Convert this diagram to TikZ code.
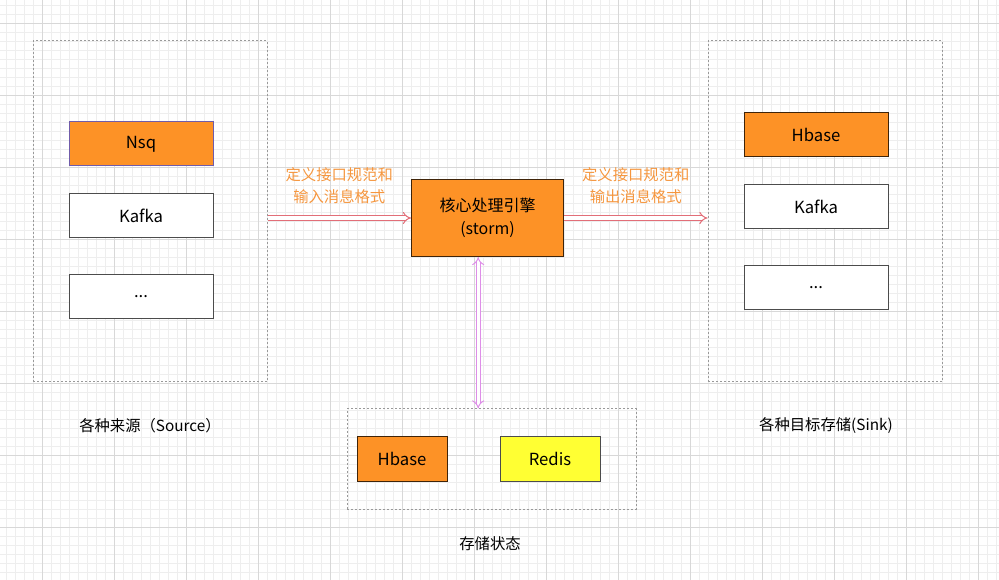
\documentclass[tikz,border=0pt]{standalone}
\usepackage{fontspec}
\setmainfont{Noto Sans CJK SC}
\usetikzlibrary{arrows.meta}
\definecolor{engine}{RGB}{253,146,38}
\definecolor{redisfill}{RGB}{255,255,51}
\definecolor{flowtext}{RGB}{245,150,62}
\definecolor{flowline}{RGB}{226,110,120}
\definecolor{stateline}{RGB}{222,142,232}
\definecolor{nsqedge}{RGB}{112,92,170}
\definecolor{gridminor}{RGB}{238,238,238}
\definecolor{gridmajor}{RGB}{216,216,216}
\tikzset{every node/.style={font=\fontsize{11.5}{16.5}\selectfont},
 item/.style={draw=black!70,line width=.75pt,fill=white,minimum width=108pt,minimum height=33pt,inner sep=0pt,font=\fontsize{12.5}{17}\selectfont},
 hot/.style={item,fill=engine,draw=black!75!engine},
 group/.style={draw=black!40,line width=.75pt,dash pattern=on 1.2pt off 1.8pt,inner sep=0pt},
 flow/.style={draw=flowline,line width=.75pt,double=white,double distance=2.4pt,-{Implies[scale=2]}},
 stateflow/.style={flow,draw=stateline,{Implies[scale=2]}-{Implies[scale=2]}},
 flowlabel/.style={text=flowtext,align=center,font=\fontsize{11.5}{16.5}\selectfont}}

\begin{document}
\begin{tikzpicture}[x=.75pt,y=-.75pt]
\useasboundingbox (0,0) rectangle (999,580);
% background grid
\foreach \x in {6,15,...,999} \draw[gridminor,line width=.5pt] (\x,0)--(\x,580);
\foreach \y in {5,14,...,580} \draw[gridminor,line width=.5pt] (0,\y)--(999,\y);
\foreach \x in {42,114,...,999} \draw[gridmajor,line width=.6pt] (\x,0)--(\x,580);
\foreach \y in {23,95,...,580} \draw[gridmajor,line width=.6pt] (0,\y)--(999,\y);
% sources
\node[group,minimum width=175.5pt,minimum height=255.75pt] (src) at (150,211.5) {};
\node[hot,draw=nsqedge] (nsq) at (141,144) {Nsq};
\node[item] (kafkain) at (141,216) {Kafka};
\node[item] (morein) at (141,297) {...};
\node (srclabel) at (150,426) {各种来源（Source）};
% sinks
\node[group,minimum width=175.5pt,minimum height=255.75pt] (sink) at (825,211.5) {};
\node[hot] (hbaseout) at (816,135) {Hbase};
\node[item] (kafkaout) at (816,207) {Kafka};
\node[item] (moreout) at (816,287.5) {...};
\node (sinklabel) at (826,426) {各种目标存储(Sink)};
% engine
\node[hot,minimum width=114pt,minimum height=57.75pt,align=center,font=\fontsize{12}{17}\selectfont] (core) at (487.5,218) {核心处理引擎\\(storm)};
% state store
\node[group,minimum width=216.75pt,minimum height=75pt] (store) at (491.5,459) {};
\node[hot,minimum width=67.5pt] (hbasestate) at (402,459) {Hbase};
\node[item,fill=redisfill,minimum width=75pt] (redis) at (550,459) {Redis};
\node (storelabel) at (490,544) {存储状态};
% connectors
\draw[flow] (src.east |- core.west) -- (core.west)
 node[flowlabel,midway,above=7pt] {定义接口规范和\\输入消息格式};
\draw[flow] (core.east) -- (sink.west |- core.east)
 node[flowlabel,midway,above=7pt] {定义接口规范和\\输出消息格式};
\draw[stateflow] ([xshift=-7pt]core.south) -- ([xshift=-7pt]core.south |- store.north);
\end{tikzpicture}
\end{document}
